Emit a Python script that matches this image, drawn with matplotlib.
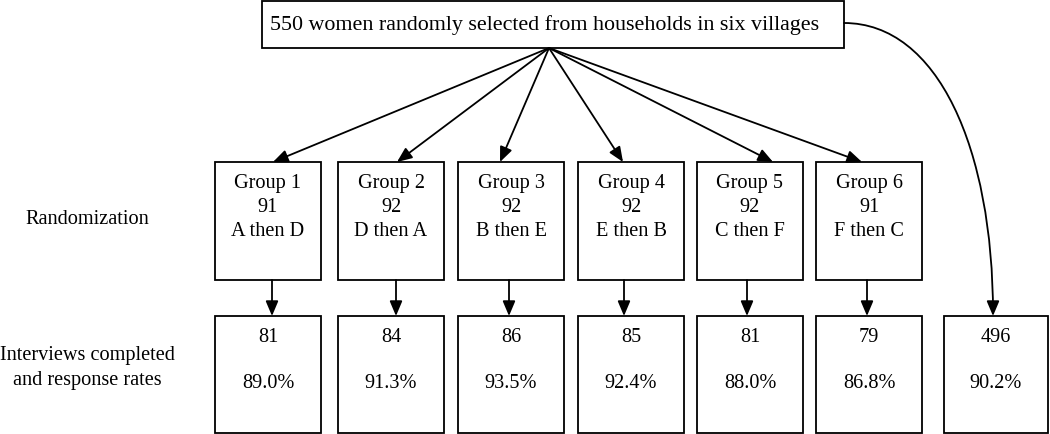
import matplotlib.pyplot as plt
from matplotlib.patches import Rectangle, FancyArrowPatch
from matplotlib.path import Path

plt.rcParams["font.family"] = ["Liberation Serif", "DejaVu Serif"]

# data
TOTAL_TEXT = "550 women randomly selected from households in six villages"
GROUPS = ["Group 1", "Group 2", "Group 3", "Group 4", "Group 5", "Group 6"]
ASSIGNED = [91, 92, 92, 92, 92, 91]
ORDERS = ["A then D", "D then A", "B then E", "E then B", "C then F", "F then C"]
COMPLETED = [81, 84, 86, 85, 81, 79]
RATES = ["89.0%", "91.3%", "93.5%", "92.4%", "88.0%", "86.8%"]
TOTAL_COMPLETED = 496
TOTAL_RATE = "90.2%"
ROW_LABELS = ["Randomization", "Interviews completed\nand response rates"]

# layout (pixel coords, y down)
BOX_LEFT = [215, 338, 458, 578, 697, 816]
BOX_W = 106
TIP_X = [273, 397, 500, 623, 773, 862]
DROP_X = [272, 396, 509, 624, 747, 867]
ROW1 = (163, 281)
ROW2 = (317, 434)
FS = 14.6
LW = 1.3
ARROW = "-|>,head_length=0.9,head_width=0.38"

fig = plt.figure(figsize=(10.5, 4.35), dpi=100)
ax = fig.add_axes([0, 0, 1, 1])
ax.set_xlim(0, 1050)
ax.set_ylim(435, 0)
ax.axis("off")


def box(x0, y0, x1, y1):
    ax.add_patch(Rectangle((x0, y0), x1 - x0, y1 - y0, fill=False,
                           edgecolor="black", linewidth=LW))


def arrow(p0, p1):
    ax.add_patch(FancyArrowPatch(p0, p1, arrowstyle=ARROW, mutation_scale=10,
                                 color="black", linewidth=LW,
                                 shrinkA=0, shrinkB=0))


# top box
box(262, 2, 844, 49)
ax.text(545, 25, TOTAL_TEXT, fontsize=15.8, ha="center", va="center")

origin = (549, 49)
for i, g in enumerate(GROUPS):
    x0 = BOX_LEFT[i]
    cx = x0 + BOX_W / 2
    box(x0, ROW1[0], x0 + BOX_W, ROW1[1])
    box(x0, ROW2[0], x0 + BOX_W, ROW2[1])
    ax.text(cx, 184, g, fontsize=FS, ha="center", va="center")
    ax.text(cx, 208, str(ASSIGNED[i]), fontsize=FS, ha="center", va="center")
    ax.text(cx, 232, ORDERS[i], fontsize=FS, ha="center", va="center")
    ax.text(cx, 338, str(COMPLETED[i]), fontsize=FS, ha="center", va="center")
    ax.text(cx, 384, RATES[i], fontsize=FS, ha="center", va="center")
    arrow(origin, (TIP_X[i], ROW1[0]))
    arrow((DROP_X[i], ROW1[1]), (DROP_X[i], ROW2[0]))

# total box
box(944, ROW2[0], 1048, ROW2[1])
ax.text(996, 338, str(TOTAL_COMPLETED), fontsize=FS, ha="center", va="center")
ax.text(996, 384, TOTAL_RATE, fontsize=FS, ha="center", va="center")

curve = Path([(844, 24), (938, 24), (993, 150), (993, 317)],
             [Path.MOVETO, Path.CURVE4, Path.CURVE4, Path.CURVE4])
ax.add_patch(FancyArrowPatch(path=curve, arrowstyle=ARROW, mutation_scale=10,
                             color="black", linewidth=LW))

# row labels
ax.text(87, 220, ROW_LABELS[0], fontsize=FS, ha="center", va="center")
ax.text(87, 368, ROW_LABELS[1], fontsize=FS, ha="center", va="center",
        linespacing=1.45)

fig.savefig("out.png", dpi=100)
